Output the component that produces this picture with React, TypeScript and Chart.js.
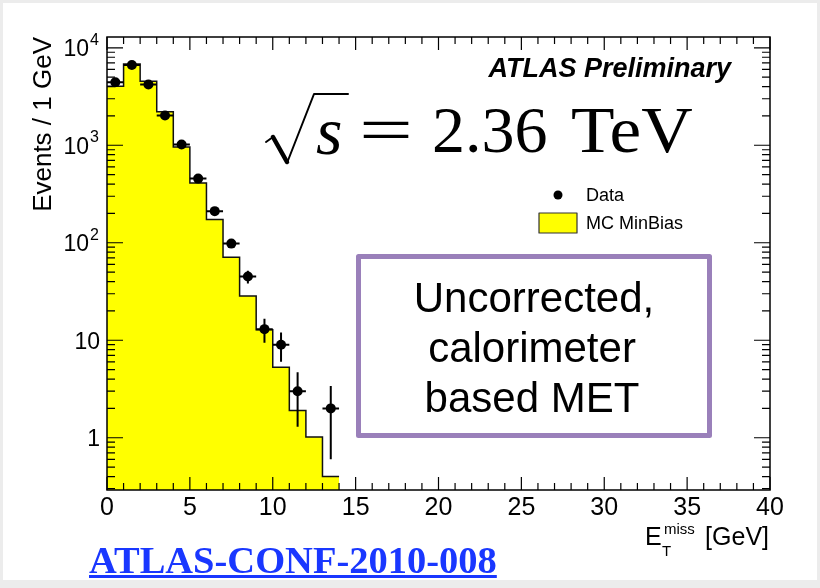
import React, { useEffect, useRef } from 'react';
import { Chart, registerables } from 'chart.js';

Chart.register(...registerables);

// ---- data ----
const binLowEdges = [0, 1, 2, 3, 4, 5, 6, 7, 8, 9, 10, 11, 12, 13];
const binWidth = 1;
const mcMinBias = [4030, 6830, 4540, 2210, 960, 410, 173, 71, 28.5, 12.8, 5.3, 1.9, 1.02, 0.4];
const dataCounts = [4430, 6670, 4200, 2020, 1020, 455, 211, 98, 45, 13, 9, 3, null, 2];
const dataErrors = [67, 82, 65, 45, 32, 21, 14.5, 9.9, 6.7, 3.6, 3, 1.7, null, 1.4];

const xRange = [0, 40];
const xTickStep = 5;
const xMinorStep = 1;
const yRange = [0.291, 12900];
const yTickValues = [1, 10, 100, 1000, 10000];
// [base, exponent] of each y tick label
const yTickLabels: [string, string][] = [
  ['1', ''],
  ['10', ''],
  ['10', '2'],
  ['10', '3'],
  ['10', '4'],
];

const SANS = '"Liberation Sans", Arial, Helvetica, sans-serif';
const SERIF = '"Liberation Serif", "Times New Roman", serif';

const overlayPlugin = {
  id: 'overlay',
  afterDatasetDraw(chart: any, args: any) {
    if (args.index !== 1) return; // after the MC histogram, before the data markers
    const { ctx } = chart;
    const xs = chart.scales.x;
    const ys = chart.scales.y;
    ctx.save();
    ctx.strokeStyle = '#000';
    ctx.lineWidth = 2;
    dataCounts.forEach((v, i) => {
      if (v == null) return;
      const e = dataErrors[i] as number;
      const xl = xs.getPixelForValue(binLowEdges[i]);
      const xr = xs.getPixelForValue(binLowEdges[i] + binWidth);
      const xc = xs.getPixelForValue(binLowEdges[i] + binWidth / 2);
      const yc = ys.getPixelForValue(v);
      const yt = ys.getPixelForValue(v + e);
      const yb = ys.getPixelForValue(Math.max(v - e, yRange[0]));
      ctx.beginPath();
      ctx.moveTo(xl, yc);
      ctx.lineTo(xr, yc);
      ctx.moveTo(xc, yt);
      ctx.lineTo(xc, yb);
      ctx.stroke();
    });
    ctx.restore();
  },
  afterDraw(chart: any) {
    const { ctx, chartArea } = chart;
    const xs = chart.scales.x;
    const ys = chart.scales.y;
    const { left, right, top, bottom } = chartArea;
    ctx.save();
    // frame
    ctx.strokeStyle = '#000';
    ctx.lineWidth = 1.5;
    ctx.strokeRect(left, top, right - left, bottom - top);
    // x ticks (bottom and top, inside)
    ctx.lineWidth = 1.2;
    ctx.beginPath();
    for (let v = xRange[0]; v <= xRange[1] + 1e-9; v += xMinorStep) {
      const px = xs.getPixelForValue(v);
      const len = Math.abs(v % xTickStep) < 1e-9 ? 13 : 7;
      ctx.moveTo(px, bottom);
      ctx.lineTo(px, bottom - len);
      ctx.moveTo(px, top);
      ctx.lineTo(px, top + len);
    }
    // y ticks (left and right, inside)
    for (let d = -1; d <= 4; d++) {
      for (let k = 1; k <= 9; k++) {
        const v = k * Math.pow(10, d);
        if (v < yRange[0] || v > yRange[1]) continue;
        const py = ys.getPixelForValue(v);
        const len = k === 1 ? 16 : 8;
        ctx.moveTo(left, py);
        ctx.lineTo(left + len, py);
        ctx.moveTo(right, py);
        ctx.lineTo(right - len, py);
      }
    }
    ctx.stroke();

    // y tick labels (10^n with real superscripts)
    ctx.fillStyle = '#000';
    ctx.textBaseline = 'alphabetic';
    ctx.textAlign = 'right';
    yTickValues.forEach((v, i) => {
      const py = ys.getPixelForValue(v);
      const [base, exp] = yTickLabels[i];
      const labelRight = left - 7;
      if (exp) {
        ctx.font = `16px ${SANS}`;
        ctx.fillText(exp, labelRight - 1, py - 3);
        const ew = ctx.measureText(exp).width;
        ctx.font = `23px ${SANS}`;
        ctx.fillText(base, labelRight - ew - 2, py + 8.5);
      } else {
        ctx.font = `23px ${SANS}`;
        ctx.fillText(base, labelRight, py + 8.5);
      }
    });

    // ATLAS Preliminary
    ctx.textAlign = 'right';
    ctx.font = `italic bold 27px ${SANS}`;
    ctx.fillText('ATLAS Preliminary', 731, 77);

    // sqrt(s) = 2.36 TeV
    ctx.lineCap = 'round';
    ctx.lineJoin = 'round';
    ctx.beginPath();
    ctx.lineWidth = 2;
    ctx.moveTo(266, 142);
    ctx.lineTo(273, 137);
    ctx.stroke();
    ctx.beginPath();
    ctx.lineWidth = 4.5;
    ctx.moveTo(273, 137);
    ctx.lineTo(287, 162);
    ctx.stroke();
    ctx.beginPath();
    ctx.lineWidth = 2;
    ctx.moveTo(287, 163);
    ctx.lineTo(314, 94);
    ctx.lineTo(348, 94);
    ctx.stroke();
    ctx.textAlign = 'left';
    ctx.font = `italic 68px ${SERIF}`;
    ctx.fillText('s', 316, 154);
    ctx.font = `66px ${SERIF}`;
    ctx.save();
    ctx.translate(359, 152);
    ctx.scale(1.45, 1);
    ctx.fillText('=', 0, 0);
    ctx.restore();
    ctx.fillText('2.36', 432, 152);
    ctx.save();
    ctx.translate(571, 152);
    ctx.scale(1.08, 1);
    ctx.fillText('TeV', 0, 0);
    ctx.restore();

    // legend
    ctx.beginPath();
    ctx.arc(558, 195, 4.5, 0, Math.PI * 2);
    ctx.fill();
    ctx.font = `18px ${SANS}`;
    ctx.fillText('Data', 586, 201);
    ctx.fillStyle = '#ffff00';
    ctx.fillRect(539, 213, 38, 20);
    ctx.strokeStyle = '#333';
    ctx.lineWidth = 1.2;
    ctx.strokeRect(539, 213, 38, 20);
    ctx.fillStyle = '#000';
    ctx.fillText('MC MinBias', 586, 229);

    // purple box
    ctx.fillStyle = '#fff';
    ctx.fillRect(358.5, 256.5, 351, 179);
    ctx.strokeStyle = '#9a80ba';
    ctx.lineWidth = 5;
    ctx.strokeRect(358.5, 256.5, 351, 179);
    ctx.fillStyle = '#000';
    ctx.textAlign = 'center';
    ctx.font = `42px ${SANS}`;
    ctx.fillText('Uncorrected,', 534, 312);
    ctx.fillText('calorimeter', 532, 362);
    ctx.fillText('based MET', 532, 412);

    // x axis title: E_T^miss [GeV]
    ctx.textAlign = 'left';
    ctx.font = `25px ${SANS}`;
    ctx.fillText('E', 645, 545);
    ctx.font = `15px ${SANS}`;
    ctx.fillText('miss', 664, 534);
    ctx.fillText('T', 662, 556);
    ctx.font = `25px ${SANS}`;
    ctx.textAlign = 'right';
    ctx.fillText('[GeV]', 769, 545);
    ctx.restore();
  },
};

export default function App() {
  const canvasRef = useRef<HTMLCanvasElement | null>(null);

  useEffect(() => {
    const canvas = canvasRef.current;
    if (!canvas) return;
    const mcPoints = binLowEdges.map((x, i) => ({ x, y: mcMinBias[i] }));
    const last = binLowEdges.length - 1;
    mcPoints.push({ x: binLowEdges[last] + binWidth, y: mcMinBias[last] });
    const dataPoints = binLowEdges
      .map((x, i) => ({ x: x + binWidth / 2, y: dataCounts[i] }))
      .filter((p) => p.y != null);

    const chart = new Chart(canvas, {
      type: 'line',
      data: {
        datasets: [
          {
            type: 'scatter',
            label: 'Data',
            data: dataPoints as any,
            order: 1,
            pointRadius: 5,
            pointHoverRadius: 5,
            pointBackgroundColor: '#000',
            pointBorderWidth: 0,
            showLine: false,
          } as any,
          {
            type: 'line',
            label: 'MC MinBias',
            data: mcPoints,
            order: 2,
            stepped: 'before',
            fill: 'start',
            backgroundColor: '#ffff00',
            borderColor: '#111',
            borderWidth: 1.5,
            pointRadius: 0,
            tension: 0,
          } as any,
        ],
      },
      options: {
        animation: false,
        responsive: false,
        events: [],
        layout: { padding: { left: 0, top: 37, right: 50, bottom: 0 } },
        plugins: {
          legend: { display: false },
          tooltip: { enabled: false },
        },
        scales: {
          x: {
            type: 'linear',
            min: xRange[0],
            max: xRange[1],
            grid: { display: false, drawTicks: false },
            border: { display: false },
            ticks: {
              stepSize: xTickStep,
              autoSkip: false,
              maxRotation: 0,
              padding: 3,
              color: '#000',
              font: { family: SANS, size: 25 },
            },
            afterFit: (scale: any) => {
              scale.height = 98;
            },
          },
          y: {
            type: 'logarithmic',
            min: yRange[0],
            max: yRange[1],
            bounds: 'data',
            grid: { display: false, drawTicks: false },
            border: { display: false },
            afterBuildTicks: (scale: any) => {
              scale.ticks = yTickValues.map((v) => ({ value: v }));
            },
            ticks: { display: false },
            title: {
              display: true,
              text: 'Events / 1 GeV',
              align: 'end',
              color: '#000',
              font: { family: SANS, size: 26 },
              padding: { top: 28, bottom: 0 },
            },
            afterFit: (scale: any) => {
              scale.width = 107;
            },
          },
        },
      } as any,
      plugins: [overlayPlugin],
    });
    return () => chart.destroy();
  }, []);

  return (
    <div
      style={{
        position: 'absolute',
        left: 0,
        top: 0,
        width: 820,
        height: 588,
        background: '#ececec',
        overflow: 'hidden',
      }}
    >
      <div style={{ position: 'absolute', left: 3, top: 3, width: 814, height: 577, background: '#fff' }} />
      <canvas ref={canvasRef} width={820} height={588} style={{ position: 'absolute', left: 0, top: 0 }} />
      <a
        href="#"
        style={{
          position: 'absolute',
          left: 89,
          top: 541,
          fontFamily: SERIF,
          fontWeight: 'bold',
          fontSize: 38.5,
          lineHeight: '38px',
          color: 'rgb(25, 55, 255)',
          textDecoration: 'underline',
          textDecorationThickness: '3px',
          whiteSpace: 'nowrap',
        }}
      >
        ATLAS-CONF-2010-008
      </a>
    </div>
  );
}
